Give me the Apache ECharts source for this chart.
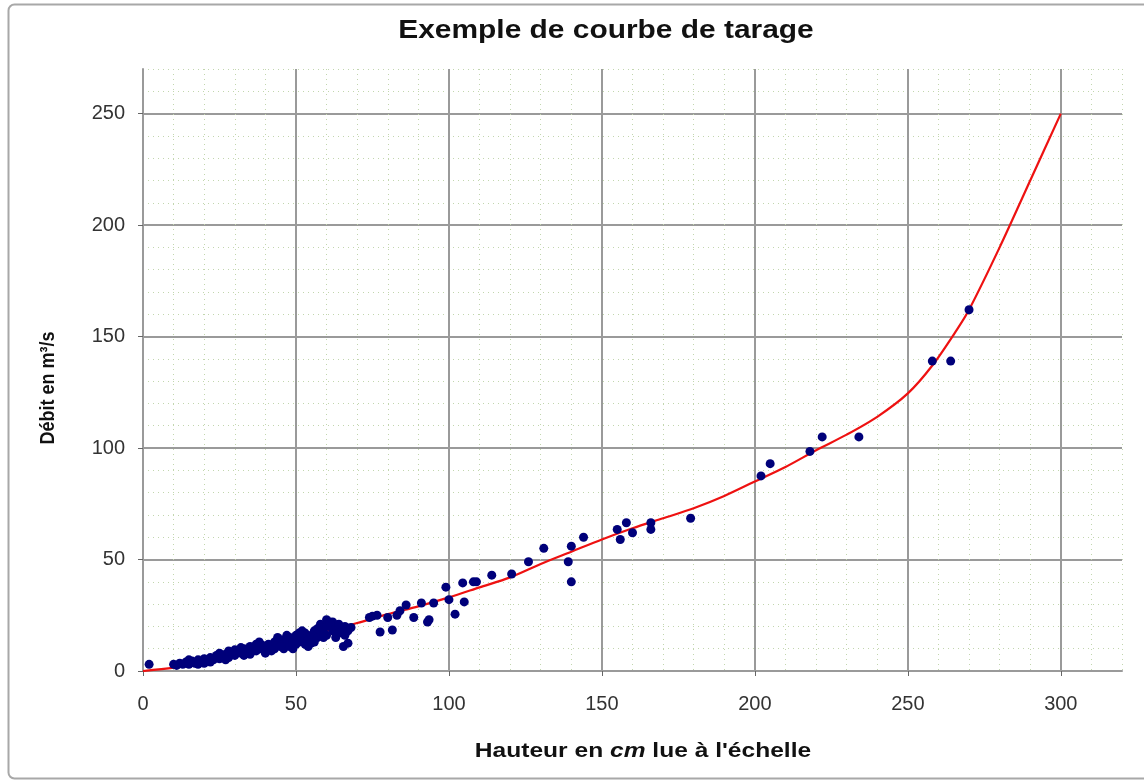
<!DOCTYPE html>
<html>
<head>
<meta charset="utf-8">
<script src="https://cdn.jsdelivr.net/npm/echarts@6/dist/echarts.min.js"></script>
<style>
html,body{margin:0;padding:0;background:#fff;}
#c{width:1144px;height:780px;}
</style>
</head>
<body>
<div id="c"></div>
<script>
const titleText = "Exemple de courbe de tarage";
const yTitle = "Débit en m³/s";
const xTicks = [0, 50, 100, 150, 200, 250, 300];
const yTicks = [0, 50, 100, 150, 200, 250];

// Measured points (hauteur cm, débit m3/s)
const obsH = [2,10,11,12,13,14,15,16,17,18,19,20,21,22,23,24,25,26,27,28,29,30,31,32,33,34,35,36,37,38,39,40,41,42,43,44,45,46,47,48,49,50,51,52,53,54,55,56,57,58,59,60,61,62,63,64,65,66,67,68,
  35,38,42,44,46,48,50,52,54,56,58,60,62,63,45,40,30,25,22,20,28,33,47,53,57,59,64,66,49,51,55,43,37,32,27,24,18,15,65.5,67,60,61,
  74,75,76.5,77.5,80,81.5,83,84,86,88.5,91,93,93.5,95,99,100,102,104.5,105,108,109,114,
  120.5,126,131,139,140,140,144,155,156,158,160,166,166,179,
  202,205,218,222,234,258,264,270];
const obsQ = [3,3,2.5,3.5,3,4,3,4.5,3.5,5,4,5.5,4.5,6,5,7,5.5,6.5,7.5,6,8,7,9,8,10,8.5,11,9,12,10,11.5,10,12,11,13,12,14,12.5,13.5,15,14,16,13,15,17,14,16,18,15,17,19,16,21,18,20,17,19,20,18,19.5,
  7.5,13,9,15,10,11,12,18,11,13,21,20,22,15,11,8,9.5,8,4,3.5,9,7,16,12,19,15,21,16,10,17,12.5,10,9,10.5,5,6,3,5,11,12.5,23,22,
  24,24.6,25,17.5,24,18.4,25,27,29.6,24,30.5,22,23,30.5,37.6,32,25.5,39.5,31,40,40,43,
  43.5,49,55,49,56,40,60,63.5,59,66.5,62,66.5,63.5,68.5,
  87.5,93,98.5,105,105,139,139,162];

// Rating curve
const curveH = [0,10,20,30,40,50,60,70,80,90,100,110,120,130,140,150,160,170,180,190,200,210,220,230,240,250,258,266,270,280,290,300];
const curveQ = [0,1.5,4,7.5,11,14.5,18,21.5,25.5,29,33,37.5,42,48,53.5,59,64,68.5,73,78.5,85,91.5,99,106,114,124.5,137,153,162,190,220,250];

const obs = obsH.map((h, i) => [h, obsQ[i]]);
const curve = curveH.map((h, i) => [h, curveQ[i]]);

const chart = echarts.init(document.getElementById('c'));
const major = '#9a9a9a';
const minorStyle = {color: '#c2d6ae', type: [1, 4], width: 1};
const fontFam = '"Liberation Sans", Arial, sans-serif';

chart.setOption({
  animation: false,
  backgroundColor: '#fff',
  graphic: [
    {type: 'rect', shape: {x: 8.5, y: 4.5, width: 1200, height: 774, r: 6}, style: {fill: 'none', stroke: '#a8a8a8', lineWidth: 2}, silent: true, z: -1},
    {type: 'text', x: 606, y: 31, scaleX: 1.15,
      style: {text: titleText, font: 'bold 26px ' + fontFam, fill: '#111', align: 'center', verticalAlign: 'middle'}},
    {type: 'text', x: 48, y: 388, rotation: Math.PI / 2, scaleY: 1.15,
      style: {text: yTitle, font: 'bold 18px ' + fontFam, fill: '#111', align: 'center', verticalAlign: 'middle'}},
    {type: 'text', x: 643, y: 751, scaleX: 1.17,
      style: {
        text: '{b|Hauteur en }{i|cm}{b| lue à l\'échelle}',
        align: 'center', verticalAlign: 'middle',
        rich: {
          b: {font: 'bold 21px ' + fontFam, fill: '#111'},
          i: {font: 'italic bold 21px ' + fontFam, fill: '#111'}
        }
      }}
  ],
  grid: {left: 143, right: 22, top: 69, bottom: 109, outerBoundsMode: 'none', containLabel: false},
  xAxis: [
    {type: 'value', position: 'bottom', min: 0, max: 320, interval: 10,
      axisLine: {show: false}, axisTick: {show: false}, axisLabel: {show: false},
      splitLine: {show: true, lineStyle: minorStyle}},
    {type: 'value', position: 'bottom', min: 0, max: 320, interval: 50,
      axisLine: {show: true, onZero: false, lineStyle: {color: major, width: 2}},
      axisTick: {show: true, length: 5, lineStyle: {color: '#666', width: 1}},
      axisLabel: {show: true, showMaxLabel: false, margin: 23, color: '#333', fontSize: 20, fontFamily: fontFam,
        formatter: v => (v === 320 ? '' : String(v))},
      splitLine: {show: true, lineStyle: {color: [major, major, major, major, major, major, major, 'rgba(0,0,0,0)'], width: 2}}}
  ],
  yAxis: [
    {type: 'value', position: 'left', min: 0, max: 270, interval: 10,
      axisLine: {show: false}, axisTick: {show: false}, axisLabel: {show: false},
      splitLine: {show: true, lineStyle: minorStyle}},
    {type: 'value', position: 'left', min: 0, max: 270, interval: 50,
      axisLine: {show: true, onZero: false, lineStyle: {color: major, width: 2}},
      axisTick: {show: true, length: 5, lineStyle: {color: '#666', width: 1}},
      axisLabel: {show: true, showMaxLabel: false, margin: 18, color: '#333', fontSize: 20, fontFamily: fontFam,
        formatter: v => (v === 270 ? '' : String(v))},
      splitLine: {show: true, lineStyle: {color: [major, major, major, major, major, major, 'rgba(0,0,0,0)'], width: 2}}}
  ],
  series: [
    {type: 'line', name: 'courbe', xAxisIndex: 1, yAxisIndex: 1, data: curve,
      smooth: 0.3, showSymbol: false, symbol: 'none', lineStyle: {color: '#ee1111', width: 2.2}, z: 3},
    {type: 'scatter', name: 'mesures', xAxisIndex: 1, yAxisIndex: 1, data: obs,
      symbol: 'circle', symbolSize: 9, itemStyle: {color: '#00007a', opacity: 1}, z: 4}
  ]
});
</script>
</body>
</html>
